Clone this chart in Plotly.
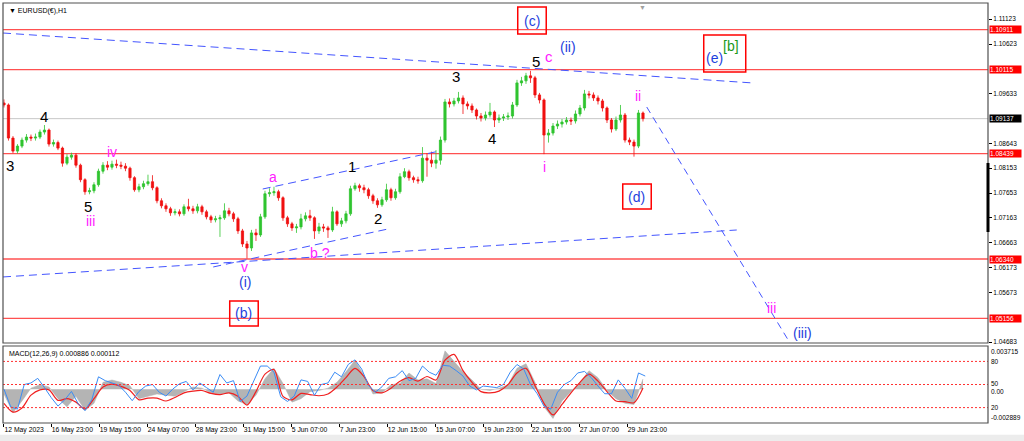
import plotly.graph_objects as go

# ---------------- data ----------------
symbol_title = "▼ EURUSD(€),H1"
macd_title = "MACD(12,26,9) 0.000886 0.000112"

first_open = 1.0945
closes = [
    1.0941, 1.0875, 1.0849, 1.0859, 1.0871, 1.0877, 1.0875, 1.0877, 1.0887, 1.0891,
    1.0863, 1.0866, 1.0855, 1.0825, 1.0837, 1.0841, 1.0821, 1.0792, 1.0768, 1.0770,
    1.0782, 1.0809, 1.0821, 1.0817, 1.0823, 1.0821, 1.0819, 1.0815, 1.0796, 1.0772,
    1.0778, 1.0784, 1.0788, 1.0776, 1.0750, 1.0740, 1.0734, 1.0726, 1.0728, 1.0724,
    1.0738, 1.0734, 1.0730, 1.0738, 1.0728, 1.0718, 1.0712, 1.0714, 1.0716, 1.0730,
    1.0724, 1.0714, 1.0690, 1.0664, 1.0656, 1.0686, 1.0682, 1.0718, 1.0764, 1.0766,
    1.0768, 1.0756, 1.0716, 1.0704, 1.0696, 1.0698, 1.0714, 1.0720, 1.0716, 1.0690,
    1.0698, 1.0696, 1.0692, 1.0728, 1.0704, 1.0710, 1.0724, 1.0774, 1.0780, 1.0776,
    1.0772, 1.0760, 1.0750, 1.0742, 1.0752, 1.0772, 1.0756, 1.0768, 1.0798, 1.0808,
    1.0796, 1.0792, 1.0790, 1.0835, 1.0831, 1.0825, 1.0831, 1.0871, 1.0947, 1.0943,
    1.0949, 1.0955, 1.0943, 1.0939, 1.0931, 1.0919, 1.0915, 1.0921, 1.0927, 1.0911,
    1.0915, 1.0917, 1.0919, 1.0941, 1.0985, 1.0989, 1.0999, 1.0995, 1.0961, 1.0951,
    1.0881, 1.0885, 1.0899, 1.0903, 1.0907, 1.0911, 1.0909, 1.0923, 1.0935, 1.0963,
    1.0961, 1.0955, 1.0949, 1.0935, 1.0911, 1.0893, 1.0911, 1.0921, 1.0871, 1.0867,
    1.0859, 1.0925, 1.09137,
]
highs = [
    1.0952, 1.0944, 1.0879, 1.0863, 1.0876, 1.0883, 1.0882, 1.0884, 1.0892, 1.0901,
    1.0894, 1.0872, 1.0870, 1.0858, 1.0843, 1.0846, 1.0845, 1.0824, 1.0795, 1.0776,
    1.0787, 1.0814, 1.0827, 1.0829, 1.0830, 1.0832, 1.0828, 1.0825, 1.0818, 1.0799,
    1.0784, 1.0790, 1.0802, 1.0801, 1.0779, 1.0755, 1.0745, 1.0738, 1.0734, 1.0733,
    1.0743, 1.0754, 1.0740, 1.0744, 1.0742, 1.0732, 1.0722, 1.0720, 1.0722, 1.0745,
    1.0736, 1.0728, 1.0718, 1.0694, 1.0670, 1.0692, 1.0694, 1.0724, 1.0770, 1.0775,
    1.0778, 1.0772, 1.0759, 1.0720, 1.0708, 1.0704, 1.0724, 1.0727, 1.0732, 1.0719,
    1.0706, 1.0704, 1.0700, 1.0738, 1.0731, 1.0716, 1.0730, 1.0780, 1.0786, 1.0784,
    1.0782, 1.0776, 1.0764, 1.0755, 1.0758, 1.0784, 1.0776, 1.0774, 1.0805, 1.0815,
    1.0812, 1.0800, 1.0798, 1.0857, 1.0845, 1.0848, 1.0851, 1.0878, 1.0953, 1.0954,
    1.0955, 1.0967, 1.0960, 1.0948, 1.0944, 1.0934, 1.0925, 1.0928, 1.0945, 1.0930,
    1.0922, 1.0923, 1.0926, 1.0947, 1.0991, 1.0997, 1.1005, 1.1009, 1.0999, 1.0965,
    1.0954, 1.0893, 1.0905, 1.0910, 1.0913, 1.0917, 1.0916, 1.0930, 1.0941, 1.0971,
    1.0969, 1.0966, 1.0960, 1.0953, 1.0938, 1.0915, 1.0918, 1.0941, 1.0925, 1.0876,
    1.0872, 1.0931, 1.0928,
]
lows = [
    1.0936, 1.0870, 1.0845, 1.0844, 1.0855, 1.0866, 1.0869, 1.0870, 1.0873, 1.0882,
    1.0858, 1.0858, 1.0851, 1.0818, 1.0821, 1.0832, 1.0816, 1.0787, 1.0762, 1.0763,
    1.0765, 1.0778, 1.0804, 1.0811, 1.0812, 1.0815, 1.0813, 1.0809, 1.0790, 1.0768,
    1.0767, 1.0773, 1.0780, 1.0771, 1.0745, 1.0735, 1.0728, 1.0720, 1.0721, 1.0719,
    1.0720, 1.0729, 1.0724, 1.0725, 1.0722, 1.0713, 1.0706, 1.0707, 1.0678, 1.0712,
    1.0719, 1.0708, 1.0684, 1.0658, 1.0635, 1.0650, 1.0670, 1.0678, 1.0714, 1.0758,
    1.0760, 1.0750, 1.0710, 1.0698, 1.0690, 1.0686, 1.0693, 1.0709, 1.0710, 1.0674,
    1.0684, 1.0688, 1.0676, 1.0688, 1.0700, 1.0698, 1.0705, 1.0720, 1.0770, 1.0768,
    1.0765, 1.0754, 1.0744, 1.0736, 1.0738, 1.0748, 1.0750, 1.0752, 1.0764, 1.0795,
    1.0790, 1.0786, 1.0784, 1.0786, 1.0798, 1.0817, 1.0814, 1.0822, 1.0866, 1.0936,
    1.0938, 1.0944, 1.0923, 1.0932, 1.0925, 1.0912, 1.0908, 1.0910, 1.0916, 1.0897,
    1.0905, 1.0909, 1.0911, 1.0914, 1.0937, 1.0979, 1.0983, 1.0985, 1.0955, 1.0944,
    1.0843, 1.0866, 1.0880, 1.0893, 1.0896, 1.0902, 1.0901, 1.0904, 1.0918, 1.0930,
    1.0954, 1.0949, 1.0942, 1.0928, 1.0905, 1.0886, 1.0889, 1.0906, 1.0866, 1.0861,
    1.0838, 1.0855, 1.0908,
]

# MACD histogram and signal (x 1e-3), one value per 12 hourly bars
macd_main_e3 = [
    -0.4, -2.0, -1.0, 0.1, 0.4, 0.2, -0.8, -1.5, -0.6, -1.8,
    -1.2, 0.6, 0.8, 0.6, 0.3, -0.8, -0.6, -0.4, -0.5, -0.6,
    -0.2, 0.2, 0.1, -0.3, -0.4, -0.3, -1.0, -1.3, -0.5, 0.9,
    1.8, 0.5, -1.1, -0.8, -0.2, -0.1, 0.1, 0.6, 1.5, 2.5,
    1.2, -0.4, -0.3, 0.4, 0.5, 1.4, 0.8, 0.9, 0.5, 3.3,
    2.4, 1.5, 0.8, 0.0, -0.1, 0.1, 0.4, 1.8, 2.2, 0.6,
    -1.5, -2.5, -1.0, -0.2, 0.6, 1.6, 1.0, -0.1, -0.8, -1.2,
    -1.3, 0.886,
]
macd_signal_e3 = [
    -1.2, -1.95, -1.6, -0.5, -0.05, -0.05, -0.95, -0.8, -1.1, -1.7,
    -0.8, 0.2, 0.45, 0.25, -0.1, -0.9, -0.75, -0.75, -1.0, -0.7,
    -0.3, -0.15, -0.1, -0.35, -0.45, -0.3, -0.6, -1.35, -0.2, 1.3,
    1.7, -0.6, -0.9, -0.35, -0.45, -0.55, -0.4, 0.2, 1.0, 1.8,
    1.1, -0.1, -0.3, 0.1, 0.7, 1.0, 0.7, 1.1, 0.8, 2.5,
    3.0, 1.6, 0.6, -0.2, -0.3, -0.15, 0.4, 1.4, 1.8, 0.3,
    -1.2, -2.2, -1.3, -0.3, 0.6, 1.3, 0.7, -0.2, -1.0, -1.06,
    -1.15, 0.112,
]
# 0-100 oscillator drawn in the MACD window, one value per 9 hourly bars
osc_values = [
    44, 21, 18, 50, 52, 58, 46, 33, 22, 30,
    41, 25, 16, 30, 60, 55, 52, 49, 40, 29,
    41, 48, 50, 40, 35, 44, 51, 54, 43, 52,
    46, 40, 63, 52, 55, 28, 35, 54, 74, 74,
    66, 34, 28, 35, 56, 54, 36, 50, 52, 66,
    60, 76, 82, 70, 49, 40, 47, 58, 60, 68,
    55, 58, 74, 66, 62, 75, 74, 68, 61, 48,
    43, 48, 47, 46, 50, 66, 76, 70, 50, 38,
    22, 18, 40, 50, 55, 65, 67, 59, 48, 38,
    38, 56, 45, 32, 65, 61,
]
osc_levels = [80, 50, 20]

# time axis (hourly bar index) and its labels
time_tick_bars = [0, 63, 127, 191, 255, 319, 383, 447, 511, 575, 639, 703, 767, 831]
time_tick_labels = ["12 May 2023", "16 May 23:00", "19 May 15:00", "24 May 07:00",
                    "28 May 23:00", "31 May 15:00", "5 Jun 07:00", "7 Jun 23:00",
                    "12 Jun 15:00", "15 Jun 07:00", "19 Jun 23:00", "22 Jun 15:00",
                    "27 Jun 07:00", "29 Jun 23:00"]
price_ticks = [1.11123, 1.10623, 1.09633, 1.08643, 1.08153, 1.07653, 1.07163,
               1.06663, 1.06173, 1.05673, 1.04683]
level_prices = [1.10911, 1.10115, 1.08439, 1.06340, 1.05156]
current_price = 1.09137
macd_max, macd_min = 0.003715, -0.002889
chart_shift_bar = 851

# drawn trend lines (bar index, price)
trend_lines = [
    (-1.3, 1.10844, 999, 1.09848),
    (-1.3, 1.05982, 977, 1.06918),
    (279, 1.06181, 512, 1.06938),
    (345, 1.07735, 581, 1.08493),
    (857, 1.09369, 1048, 1.04666),
]
# wave labels: text, bar index, price, colour key, size
wave_labels = [
    ("3", 8, 1.08213, "k", 15), ("4", 53, 1.09190, "k", 15),
    ("iv", 144, 1.08473, "m", 14), ("5", 112, 1.07387, "k", 15),
    ("iii", 115, 1.07107, "m", 14), ("a", 359, 1.07975, "m", 14),
    ("v", 321, 1.06181, "m", 14), ("(i)", 321, 1.05882, "b", 14),
    ("(b)", 320, 1.05264, "b", 14), ("b ?", 421, 1.06460, "m", 14),
    ("1", 464, 1.08174, "k", 15), ("2", 499, 1.07157, "k", 15),
    ("3", 603, 1.09987, "k", 15), ("4", 651, 1.08732, "k", 15),
    ("i", 721, 1.08174, "m", 14), ("5", 709, 1.10286, "k", 15),
    ("c", 727, 1.10366, "m", 15), ("(ii)", 752, 1.10565, "b", 14),
    ("(c)", 704, 1.11083, "b", 14), ("(e)", 947, 1.10346, "b", 14),
    ("[b]", 969, 1.10585, "g", 14), ("ii", 845, 1.09589, "m", 14),
    ("(d)", 844, 1.07576, "b", 14), ("iii", 1024, 1.05364, "m", 14),
    ("(iii)", 1064, 1.04865, "b", 14),
]
# red frames round some labels (bar0, bar1, price0, price1)
label_frames = [
    (685, 723, 1.10824, 1.11362),
    (301, 339, 1.05005, 1.05503),
    (825, 863, 1.07337, 1.07835),
    (933, 989, 1.10067, 1.10804),
]

# ---------------- figure ----------------
GREEN = "#2fc42f"
RED = "#f01010"
COL = {"k": "#000000", "m": "#ff20ff", "b": "#1f3fdd", "g": "#1a9a1a"}
FONT = "Liberation Sans, Arial, sans-serif"

bar_x = list(range(0, 6 * len(closes), 6))
opens = [first_open] + closes[:-1]
macd_x = list(range(0, 12 * len(macd_main_e3), 12))
osc_x = list(range(0, 9 * len(osc_values), 9))

fig = go.Figure()
fig.add_trace(go.Candlestick(
    x=bar_x, open=opens, high=highs, low=lows, close=closes,
    increasing=dict(line=dict(color=GREEN, width=0.8), fillcolor=GREEN),
    decreasing=dict(line=dict(color=RED, width=0.8), fillcolor=RED),
    whiskerwidth=0, xaxis="x", yaxis="y", showlegend=False, hoverinfo="skip"))

fig.add_trace(go.Scatter(
    x=macd_x, y=[v / 1000 for v in macd_main_e3], mode="lines",
    line=dict(color="#b0b0b0", width=0.5), fill="tozeroy", fillcolor="#b4b4b4",
    xaxis="x2", yaxis="y2", showlegend=False, hoverinfo="skip"))
fig.add_trace(go.Scatter(
    x=osc_x, y=osc_values, mode="lines", line=dict(color="#3b8cf5", width=1),
    xaxis="x2", yaxis="y3", showlegend=False, hoverinfo="skip"))
fig.add_trace(go.Scatter(
    x=macd_x, y=[v / 1000 for v in macd_signal_e3], mode="lines",
    line=dict(color="#f02020", width=1.2, shape="spline", smoothing=0.8),
    xaxis="x2", yaxis="y2", showlegend=False, hoverinfo="skip"))

shapes = []
for lp in level_prices:
    shapes.append(dict(type="line", xref="x domain", yref="y", x0=0, x1=1, y0=lp, y1=lp,
                       line=dict(color="#ff5050", width=1.3), layer="below"))
shapes.append(dict(type="line", xref="x domain", yref="y", x0=0, x1=1,
                   y0=current_price, y1=current_price,
                   line=dict(color="#c8c8c8", width=1), layer="below"))
for i, (x0, y0, x1, y1) in enumerate(trend_lines):
    shapes.append(dict(type="line", xref="x", yref="y", x0=x0, y0=y0, x1=x1, y1=y1,
                       line=dict(color="#4455ff", width=1,
                                 dash="8px,5px" if i < 4 else "7px,5px")))
for (x0, x1, y0, y1) in label_frames:
    shapes.append(dict(type="rect", xref="x", yref="y", x0=x0, x1=x1, y0=y0, y1=y1,
                       line=dict(color="#ff0000", width=1.5)))
for lv in osc_levels:
    shapes.append(dict(type="line", xref="x2 domain", yref="y3", x0=0, x1=1, y0=lv, y1=lv,
                       line=dict(color="#ff3030", width=1, dash="2px,2px")))
# panel frames
shapes.append(dict(type="rect", xref="x domain", yref="y domain", x0=0, x1=1, y0=0, y1=1,
                   line=dict(color="#505050", width=1.2)))
shapes.append(dict(type="rect", xref="x2 domain", yref="y2 domain", x0=0, x1=1, y0=0, y1=1,
                   line=dict(color="#505050", width=1.2)))
# thick marker on the price scale
shapes.append(dict(type="line", xref="x domain", yref="y", x0=1, x1=1, y0=1.06878, y1=1.08254,
                   line=dict(color="#000000", width=3)))
# grey strip along the bottom
shapes.append(dict(type="rect", xref="paper", yref="paper", x0=-0.01, x1=1.05,
                   y0=-0.045, y1=-0.028, line=dict(width=0), fillcolor="#ececec"))

annotations = []
for txt, bx, py, ck, sz in wave_labels:
    annotations.append(dict(x=bx, y=py, xref="x", yref="y", text=txt, showarrow=False,
                            font=dict(family=FONT, size=sz, color=COL[ck])))
for lp in level_prices:
    annotations.append(dict(x=1, y=lp, xref="x domain", yref="y", text=f"{lp:.5f}",
                            showarrow=False, xanchor="left", xshift=1, width=31, align="left",
                            bgcolor="#ff0000", borderpad=0,
                            font=dict(family=FONT, size=6.5, color="#ffffff")))
annotations.append(dict(x=1, y=current_price, xref="x domain", yref="y",
                        text=f"{current_price:.5f}", showarrow=False, xanchor="left",
                        xshift=1, width=31, align="left", bgcolor="#000000", borderpad=0,
                        font=dict(family=FONT, size=6.5, color="#ffffff")))
annotations.append(dict(x=0, y=1, xref="x domain", yref="y domain", text=symbol_title,
                        showarrow=False, xanchor="left", yanchor="top", xshift=4, yshift=-2,
                        font=dict(family=FONT, size=7, color="#000000")))
annotations.append(dict(x=chart_shift_bar, y=1, xref="x", yref="y domain", text="▼",
                        showarrow=False, yanchor="top", yshift=1,
                        font=dict(family=FONT, size=7, color="#a0a0a0")))
annotations.append(dict(x=0, y=1, xref="x2 domain", yref="y2 domain", text=macd_title,
                        showarrow=False, xanchor="left", yanchor="top", xshift=4, yshift=-2,
                        font=dict(family=FONT, size=7, color="#000000")))
small = dict(family=FONT, size=6.5, color="#000000")
annotations.append(dict(x=1, y=macd_max, xref="x2 domain", yref="y2", text=f"{macd_max:.6f}",
                        showarrow=False, xanchor="left", yanchor="top", xshift=1, font=small))
annotations.append(dict(x=1, y=macd_min, xref="x2 domain", yref="y2", text=f"{macd_min:.6f}",
                        showarrow=False, xanchor="left", yanchor="bottom", xshift=1, font=small))
annotations.append(dict(x=1, y=0, xref="x2 domain", yref="y2", text="0.00",
                        showarrow=False, xanchor="left", yanchor="top", xshift=1, yshift=3,
                        font=small))
for lv in osc_levels:
    annotations.append(dict(x=1, y=lv, xref="x2 domain", yref="y3", text=str(lv),
                            showarrow=False, xanchor="left", xshift=1,
                            yshift=1 if lv == 50 else 0, font=small))

fig.update_layout(
    width=1024, height=441,
    margin=dict(l=3, r=36, t=3, b=18),
    paper_bgcolor="#ffffff", plot_bgcolor="#ffffff",
    showlegend=False,
    xaxis=dict(domain=[0, 1], range=[-1.3, 1312], anchor="y", showticklabels=False,
               showgrid=False, zeroline=False, ticks="", rangeslider=dict(visible=False)),
    xaxis2=dict(domain=[0, 1], matches="x", anchor="y2", tickvals=time_tick_bars,
                ticktext=time_tick_labels, ticks="outside", ticklen=3, tickcolor="#000",
                tickangle=0, ticklabelposition="outside right", showgrid=False,
                zeroline=False, tickfont=dict(family=FONT, size=6.8, color="#000000")),
    yaxis=dict(domain=[0.1905, 1], range=[1.04666, 1.11442], side="right", anchor="x",
               tickvals=price_ticks, ticktext=[f"{p:.5f}" for p in price_ticks],
               ticks="outside", ticklen=3, tickcolor="#000", showgrid=False, zeroline=False,
               tickfont=dict(family=FONT, size=6.5, color="#000000")),
    yaxis2=dict(domain=[0, 0.1833], range=[macd_min, macd_max], anchor="x2",
                showticklabels=False, showgrid=False, zeroline=False, ticks=""),
    yaxis3=dict(overlaying="y2", range=[0, 100], anchor="x2", visible=False),
    shapes=shapes, annotations=annotations,
)

fig.write_html("out.html", config={"displayModeBar": False},
               post_script="document.body.style.margin='0';document.body.style.overflow='hidden';")
